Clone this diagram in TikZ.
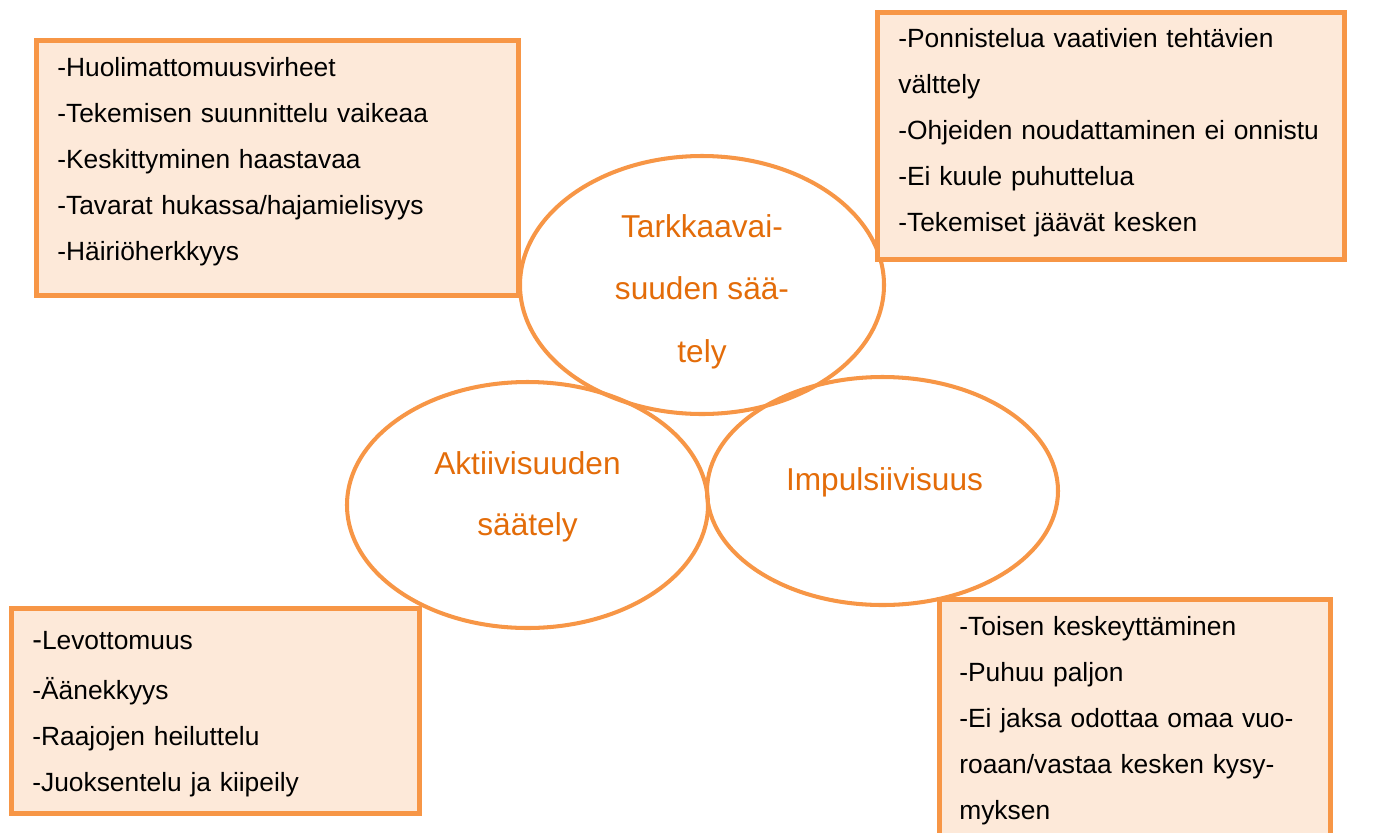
\documentclass[tikz,border=0pt]{standalone}
\usepackage{fontspec}
\setmainfont{Liberation Sans}
\usetikzlibrary{shapes.geometric,fit}
\definecolor{rimorange}{HTML}{F79646}
\definecolor{boxfill}{HTML}{FDE9D9}
\definecolor{headorange}{HTML}{E36C09}

\begin{document}
\begin{tikzpicture}[x=0.2mm,y=-0.2mm,
			area/.style={draw=rimorange,ellipse,line width=2.3pt,inner sep=0pt},
			areatext/.style={text=headorange,anchor=base,align=center,inner sep=0pt,
				font=\fontsize{18}{35.3}\selectfont},
			box/.style={draw=rimorange,fill=boxfill,rectangle,line width=2.6pt,inner sep=0pt},
			list/.style={anchor=base west,align=left,inner sep=0pt,text width=9.5cm,
				font=\fontsize{15}{26.2}\selectfont}]
			\useasboundingbox (0,0) rectangle (1381,832);
			\clip (0,0) rectangle (1381,832);
			\node (tark) [area,minimum width=364*0.2mm,minimum height=258*0.2mm] at (702,285) {};
			\node (akti) [area,minimum width=361*0.2mm,minimum height=246*0.2mm] at (527.5,505) {};
			\node (impu) [area,minimum width=351*0.2mm,minimum height=228*0.2mm] at (882.5,491) {};

			\node (tlbox) [box,fit={(36.3,40.3) (518.7,295.7)}] {};
			\node (trbox) [box,fit={(877.3,12.3) (1344.7,259.7)}] {};
			\node (blbox) [box,fit={(11.3,608.3) (419.7,813.7)}] {};
			\node (brbox) [box,fit={(939.3,599.3) (1330.7,880)}] {};

			\node (tarktext) [areatext] at (702,362) {Tarkkaavai-\\suuden sää-\\tely};
			\node (aktitext) [areatext,font=\fontsize{18}{34.2}\selectfont] at (527.5,535) {Aktiivisuuden\\säätely};
			\node (imputext) [areatext] at (884.5,490) {Impulsiivisuus};

			\node (tllist) [list] at (57,76) {-Huolimattomuusvirheet\\
				-Tekemisen suunnittelu vaikeaa\\
				-Keskittyminen haastavaa\\
				-Tavarat hukassa/hajamielisyys\\
				-Häiriöherkkyys};
			\node (trlist) [list] at (898,47) {-Ponnistelua vaativien tehtävien\\
				välttely\\
				-Ohjeiden noudattaminen ei onnistu\\
				-Ei kuule puhuttelua\\
				-Tekemiset jäävät kesken};
			\node (bllist) [list] at (32,649) {{\fontsize{16.5}{26.2}\selectfont -}Levottomuus\\[2.3pt]
				-Äänekkyys\\
				-Raajojen heiluttelu\\
				-Juoksentelu ja kiipeily};
			\node (brlist) [list] at (959,635) {-Toisen keskeyttäminen\\
				-Puhuu paljon\\
				-Ei jaksa odottaa omaa vuo-\\
				roaan/vastaa kesken kysy-\\
				myksen};
		\end{tikzpicture}
\end{document}
